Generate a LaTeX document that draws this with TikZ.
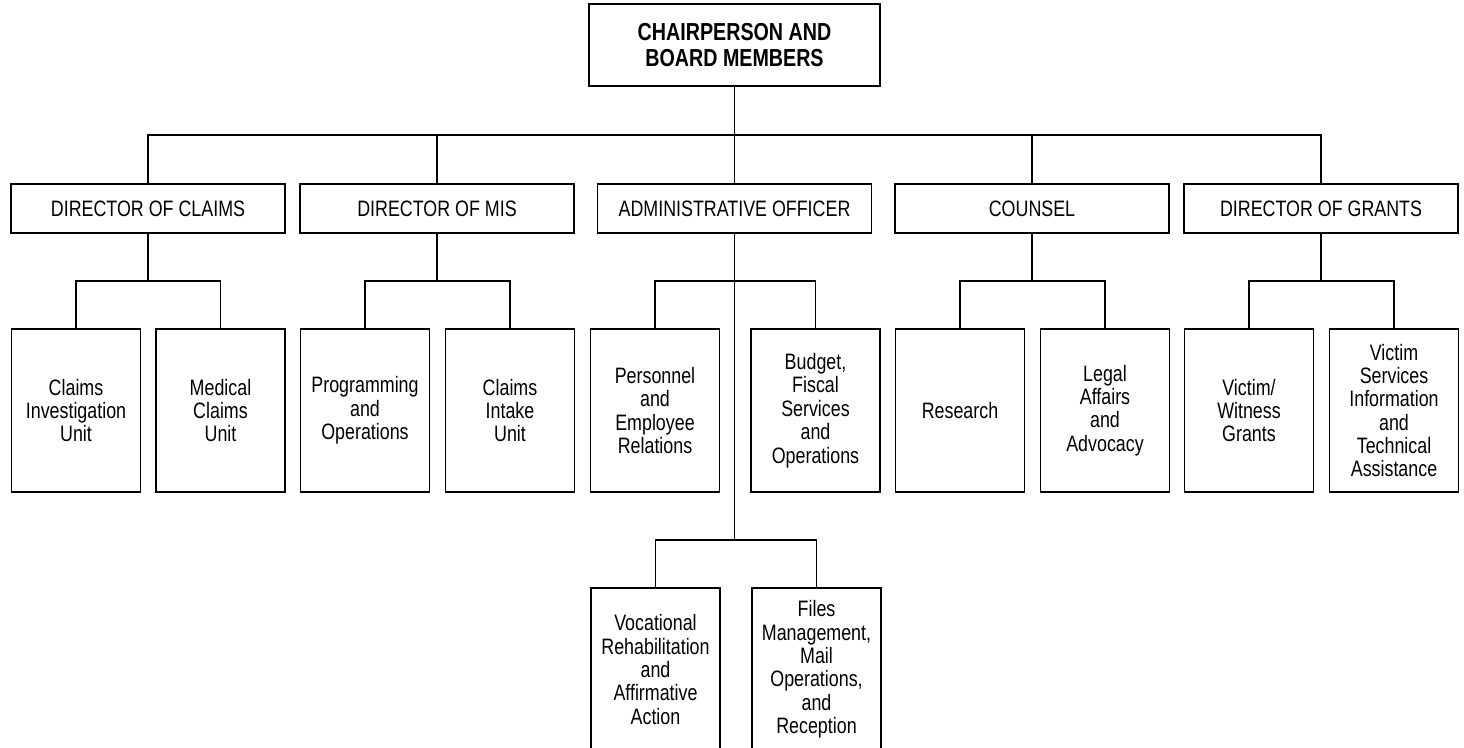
\documentclass[tikz,border=0pt]{standalone}
\usepackage{fontspec}
\setmainfont{Liberation Sans}[FakeStretch=0.8]

\tikzset{
  box/.style={draw, line width=1.1pt, align=center, inner sep=2pt},
  chief/.style={box, minimum width=5.82cm, minimum height=1.64cm,
    font=\fontsize{14}{14.8}\selectfont\bfseries},
  office/.style={box, minimum width=5.48cm, minimum height=0.98cm,
    font=\fontsize{12.7}{13.3}\selectfont},
  unit/.style={box, minimum width=2.58cm, minimum height=3.26cm,
    font=\fontsize{12.7}{13.3}\selectfont},
  link/.style={line width=1.1pt}
}

\begin{document}
\begin{tikzpicture}

  \useasboundingbox (0, 0) rectangle (29.28, -14.94);
  \clip (0, 0) rectangle (29.28, -14.94);

  \node[chief] (chair) at (14.69, -0.90) {CHAIRPERSON AND\\BOARD MEMBERS};

  \node[office] (claims)  at (2.96, -4.17)  {DIRECTOR OF CLAIMS};
  \node[office] (mis)     at (8.74, -4.17)  {DIRECTOR OF MIS};
  \node[office] (admin)   at (14.69, -4.17) {ADMINISTRATIVE OFFICER};
  \node[office] (counsel) at (20.64, -4.17) {COUNSEL};
  \node[office] (grants)  at (26.42, -4.17) {DIRECTOR OF GRANTS};

  \node[unit] (invest)   at (1.52, -8.21)  {Claims\\Investigation\\Unit};
  \node[unit] (medical)  at (4.41, -8.21)  {Medical\\Claims\\Unit};
  \node[unit] (prog)     at (7.30, -8.21)  {Programming\\and\\Operations};
  \node[unit] (intake)   at (10.20, -8.21) {Claims\\Intake\\Unit};
  \node[unit] (pers)     at (13.10, -8.21) {Personnel\\and\\Employee\\Relations};
  \node[unit] (budget)   at (16.31, -8.21) {Budget,\\Fiscal\\Services\\and\\Operations};
  \node[unit] (research) at (19.20, -8.21) {Research};
  \node[unit] (legal)    at (22.10, -8.21) {Legal\\Affairs\\and\\Advocacy};
  \node[unit] (witness)  at (24.98, -8.21) {Victim/\\Witness\\Grants};
  \node[unit] (info)     at (27.88, -8.21) {Victim\\Services\\Information\\and\\Technical\\Assistance};

  \node[unit] (voc)   at (13.11, -13.39) {Vocational\\Rehabilitation\\and\\Affirmative\\Action};
  \node[unit] (files) at (16.33, -13.39) {Files\\Management,\\Mail\\Operations,\\and\\Reception};

  \foreach \n in {claims, mis, admin, counsel, grants}
    \draw[link] (chair.south) -- ++(0, -.96) -| (\n.north);

  \foreach \p/\a/\b in {claims/invest/medical, mis/prog/intake, admin/pers/budget,
      counsel/research/legal, grants/witness/info}{
      \draw[link] (\p.south) -- ++(0, -.94) -| (\a.north);
      \draw[link] (\p.south) -- ++(0, -.94) -| (\b.north);
    }

  \draw[link] (admin.south) -- ++(0, -6.12) -| (voc.north);
  \draw[link] (admin.south) -- ++(0, -6.12) -| (files.north);

\end{tikzpicture}
\end{document}
